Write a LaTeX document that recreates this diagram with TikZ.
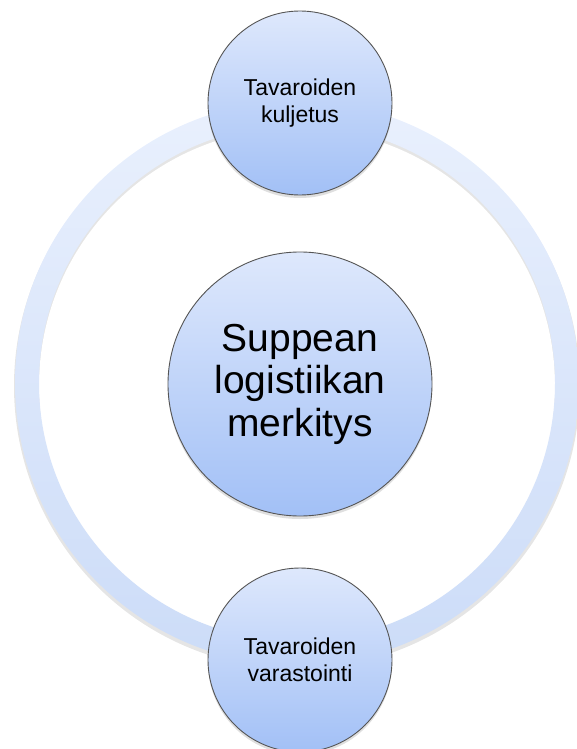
\documentclass[tikz,border=0pt]{standalone}
\usepackage{fontspec}
\setmainfont{Liberation Sans}
\usetikzlibrary{shadows,calc}

\definecolor{balltop}{HTML}{DEE8FC}
\definecolor{ballbot}{HTML}{A2C0F6}
\definecolor{ringtop}{HTML}{E9F0FD}
\definecolor{ringbot}{HTML}{CCDCF8}
\definecolor{rim}{HTML}{555555}

\begin{document}
\begin{tikzpicture}[x=1pt,y=-1pt,
  ball/.style={circle, draw=rim, line width=0.9pt, inner sep=0pt,
    top color=balltop, bottom color=ballbot, align=center,
    drop shadow={shadow xshift=0pt, shadow yshift=-3pt, opacity=0.25}},
  small/.style={ball, minimum size=184pt, font=\fontsize{23}{27}\selectfont},
  big/.style={ball, minimum size=264pt, font=\fontsize{39}{42.5}\selectfont}]

\useasboundingbox (0,0) rectangle (576,749);

%% the ring, with its soft shadow
\coordinate (ring) at (297,383);
\fill[black!10] ($(ring)+(0,3)$) circle (283pt);
\fill[white] ($(ring)+(0,3)$) circle (258pt);
\shade[top color=ringtop, bottom color=ringbot, even odd rule]
  (ring) circle (282pt) (ring) circle (258pt);

%% the three balls
\node[big] (mid) at (300,384) {Suppean\\logistiikan\\merkitys};
\node[small] (top) at (300,103) {Tavaroiden\\kuljetus};
\node[small] (bot) at (300,660) {Tavaroiden\\varastointi};

\end{tikzpicture}
\end{document}
